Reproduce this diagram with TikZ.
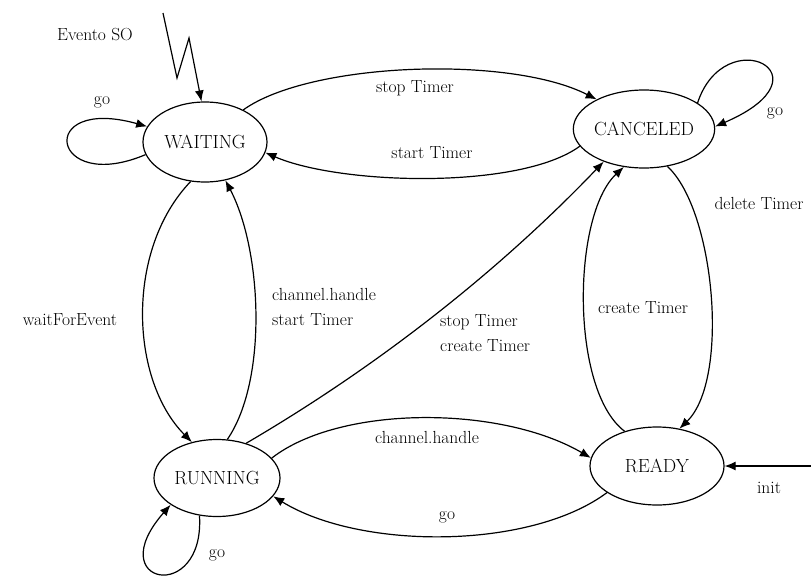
\documentclass[tikz,border=0pt]{standalone}
\usepackage{fontspec}
\usetikzlibrary{shapes.geometric,arrows.meta}
\begin{document}
\begin{tikzpicture}[x=1pt,y=-1pt,
  state/.style={draw,ellipse,line width=1.2pt,inner sep=0pt,
    font=\fontsize{19}{21}\selectfont},
  trans/.style={draw,line width=1.2pt,-{Latex[length=11pt,width=9pt]}},
  lbl/.style={font=\fontsize{17.5}{25}\selectfont,inner sep=0pt}]
\useasboundingbox (0,0) rectangle (811,581);
\fill[white] (0,0) rectangle (811,581);

% states
\node[state,minimum width=124pt,minimum height=80pt] (wait) at (205,142) {WAITING};
\node[state,minimum width=136pt,minimum height=78pt] (canc) at (644,129) {CANCELED};
\node[state,minimum width=126pt,minimum height=77pt] (run)  at (217,478) {RUNNING};
\node[state,minimum width=134pt,minimum height=78pt] (ready) at (657,466) {READY};

% external event (zigzag) into WAITING
\coordinate (ev0) at (163,13);
\coordinate (ev1) at (177,78);
\coordinate (ev2) at (189,38);
\draw[trans] (ev0) -- (ev1) -- (ev2) -- (wait.95);
\node[lbl] (evlbl) at (95,35) {Evento SO};

% init into READY
\coordinate (initsrc) at (812,466);
\draw[trans] (initsrc) -- (ready.0);
\node[lbl] (initlbl) at (769,488) {init};

% self loops
\draw[trans] (wait.192) .. controls (50,195) and (35,95) .. (wait.165);
\node[lbl] (l1) at (102,102) {go};
\draw[trans] (canc.26) .. controls (725,20) and (835,75) .. (canc.2);
\node[lbl] (l2) at (775,113) {go};
\draw[trans] (run.-115) .. controls (205,605) and (100,585) .. (run.-150);
\node[lbl] (l3) at (217,555) {go};

% WAITING <-> CANCELED
\draw[trans] (wait.40) .. controls (310,62) and (510,55) .. (canc.148);
\node[lbl] (l4) at (415,88) {stop Timer};
\draw[trans] (canc.195) .. controls (520,190) and (340,185) .. (wait.-10);
\node[lbl] (l5) at (432,153) {start Timer};

% CANCELED <-> READY
\draw[trans] (canc.-58) .. controls (715,210) and (730,380) .. (ready.59);
\node[lbl] (l6) at (759,203) {delete Timer};
\draw[trans] (ready.133) .. controls (570,390) and (572,215) .. (canc.242);
\node[lbl] (l7) at (643,308) {create Timer};

% WAITING <-> RUNNING
\draw[trans] (wait.-110) .. controls (125,250) and (130,380) .. (run.125);
\node[lbl] (l8) at (70,320) {waitForEvent};
\draw[trans] (run.75) .. controls (268,380) and (262,250) .. (wait.-62);
\node[lbl,anchor=west,align=left] (l9) at (272,307) {channel.handle\\start Timer};

% RUNNING -> CANCELED
\draw[trans] (run.50) .. controls (380,365) and (500,270) .. (canc.219);
\node[lbl,anchor=west,align=left] (l10) at (440,333) {stop Timer\\create Timer};

% RUNNING <-> READY
\draw[trans] (run.20) .. controls (340,405) and (500,405) .. (ready.173);
\node[lbl] (l11) at (427,437) {channel.handle};
\draw[trans] (ready.208) .. controls (530,550) and (360,550) .. (run.-18);
\node[lbl] (l12) at (447,517) {go};
\end{tikzpicture}
\end{document}
